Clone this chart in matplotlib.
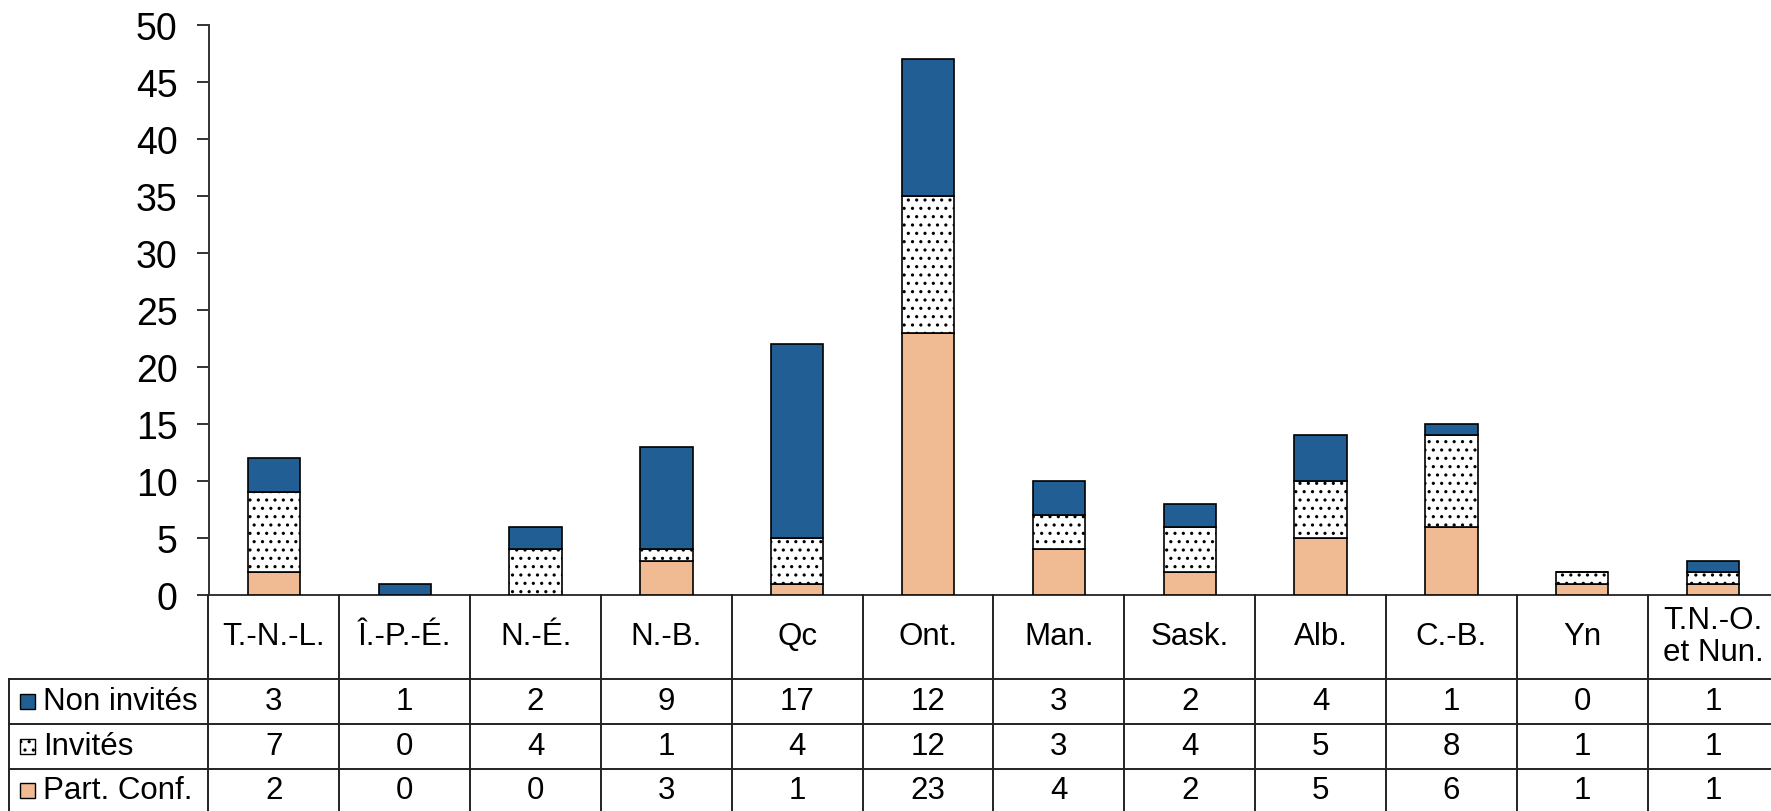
import matplotlib
matplotlib.use("Agg")
import matplotlib.pyplot as plt
from matplotlib.lines import Line2D
from matplotlib.patches import Rectangle
from matplotlib import transforms

plt.rcParams['font.family'] = ['Liberation Sans', 'DejaVu Sans']
plt.rcParams['hatch.linewidth'] = 1.1
plt.rcParams['hatch.color'] = '#3a3a3a'

categories = ["T.-N.-L.", "Î.-P.-É.", "N.-É.", "N.-B.", "Qc", "Ont.", "Man.",
              "Sask.", "Alb.", "C.-B.", "Yn", "T.N.-O.\net Nun."]
non_invites = [3, 1, 2, 9, 17, 12, 3, 2, 4, 1, 0, 1]
invites = [7, 0, 4, 1, 4, 12, 3, 4, 5, 8, 1, 1]
part_conf = [2, 0, 0, 3, 1, 23, 4, 2, 5, 6, 1, 1]
series_names = ["Non invités", "Invités", "Part. Conf."]
yticks = [0, 5, 10, 15, 20, 25, 30, 35, 40, 45, 50]

BLUE = '#215E93'
PEACH = '#F0BA93'
W, H = 1771, 812

fig = plt.figure(figsize=(W / 100, H / 100), dpi=100)
ax_left, ax_right, ax_top, ax_zero = 208.5, 1778.5, 26, 596
ax = fig.add_axes([ax_left / W, (H - ax_zero) / H,
                   (ax_right - ax_left) / W, (ax_zero - ax_top) / H])

x = list(range(len(categories)))
bw = 0.4
ax.bar(x, part_conf, bw, color=PEACH, edgecolor='black', linewidth=1.2, zorder=3)
b2 = [p for p in part_conf]
ax.bar(x, invites, bw, bottom=b2, color='white', edgecolor='black', hatch='..',
       linewidth=1.2, zorder=3)
b3 = [p + i for p, i in zip(part_conf, invites)]
ax.bar(x, non_invites, bw, bottom=b3, color=BLUE, edgecolor='black', linewidth=1.2,
       zorder=3)

ax.set_xlim(-0.5, len(categories) - 0.5)
ax.set_ylim(0, 50)
ax.set_yticks(yticks)
ax.set_xticks([])
for s in ['top', 'right']:
    ax.spines[s].set_visible(False)
for s in ['left', 'bottom']:
    ax.spines[s].set_linewidth(1.4)
    ax.spines[s].set_color('#333333')
ax.tick_params(axis='y', direction='out', length=8.4, width=1.4, color='#333333',
               labelsize=27, pad=14)

# table below
def fy(ypx):
    return 1 - ypx / H

tr = transforms.blended_transform_factory(ax.transData, fig.transFigure)
trf = fig.transFigure
LC = '#222222'
LW = 1.4
row_tops = [680, 725, 770]
row_bottom = 812
for i in range(len(categories) + 1):
    fig.add_artist(Line2D([i - 0.5, i - 0.5], [fy(ax_zero), fy(row_bottom)],
                          transform=tr, color=LC, lw=LW, clip_on=False))
fig.add_artist(Line2D([9 / W, 9 / W], [fy(row_tops[0]), fy(row_bottom)],
                      transform=trf, color=LC, lw=LW))
for yp in row_tops:
    fig.add_artist(Line2D([9 / W, 1], [fy(yp), fy(yp)], transform=trf,
                          color=LC, lw=LW))

# header
for i, c in enumerate(categories):
    fig.text(0, 0, c, transform=tr, fontsize=22.5, ha='center', va='center',
             linespacing=1.08).set_position((i, fy(637)))

rows = [non_invites, invites, part_conf]
centers = [702.5, 747.5, 791]
for r, (vals, yc, name) in enumerate(zip(rows, centers, series_names)):
    for i, v in enumerate(vals):
        t = fig.text(0, 0, str(v), transform=tr, fontsize=22.5, ha='center',
                     va='center')
        t.set_position((i, fy(yc)))
    fig.text(43 / W, fy(yc), name, fontsize=22.5, ha='left', va='center')
    ks = 15
    if r == 0:
        kw = dict(facecolor=BLUE)
    elif r == 1:
        kw = dict(facecolor='white', hatch='..')
    else:
        kw = dict(facecolor=PEACH)
    fig.add_artist(Rectangle((20 / W, fy(yc + ks / 2)), ks / W, ks / H,
                             transform=trf, edgecolor='black', linewidth=1.0, **kw))

fig.savefig("out.png", dpi=100)
